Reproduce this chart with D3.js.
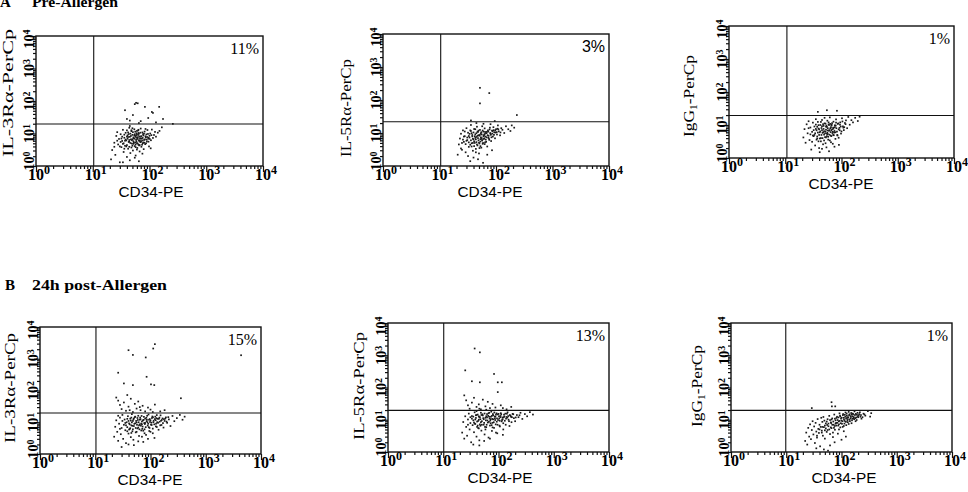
<!DOCTYPE html>
<html>
<head>
<meta charset="utf-8">
<script src="https://cdn.jsdelivr.net/npm/d3@7"></script>
<style>
  html, body { margin: 0; padding: 0; background: #fff; }
  svg { display: block; }
  .serif { font-family: "Liberation Serif", "DejaVu Serif", serif; }
  .sans { font-family: "Liberation Sans", Arial, sans-serif; }
</style>
</head>
<body>
<div id="chart"></div>
<script>
// CD34-PE (x) vs receptor-PerCp (y) fluorescence
const preIL3 = [
  [22,3.1],[24,5.2],[21,1.6],[26,8.4],[25,2.2],[28,4.6],[27,11],[29,6.8],[30,1.3],[31,9.5],
  [32,3.8],[33,5.9],[34,13],[35,2.7],[36,7.4],[37,4.2],[38,10.5],[39,6.1],[40,1.9],[41,8.8],
  [42,3.4],[43,5.5],[44,15],[45,7.9],[46,2.5],[47,6.6],[48,11.8],[49,4.9],[50,9.1],[51,3.0],
  [52,5.8],[53,7.2],[54,13.5],[55,4.1],[56,8.3],[57,2.1],[58,6.4],[59,10.2],[60,5.1],[61,3.6],
  [62,7.7],[63,12.4],[64,4.5],[65,9.8],[66,6.0],[67,2.8],[68,8.1],[69,5.4],[70,14.2],[72,3.9],
  [73,7.0],[75,10.8],[76,5.0],[78,8.7],[79,3.3],[80,6.3],[82,11.5],[84,4.7],[86,7.6],[88,9.4],
  [90,5.7],[92,12.8],[95,6.9],[98,4.0],[100,8.5],[103,10.0],[106,6.2],[110,13.2],[115,7.3],[120,9.0],
  [125,11.2],[130,8.0],[140,10.6],[150,12.0],[165,15.5],
  [35,5.0],[38,6.5],[40,4.4],[42,7.8],[44,5.6],[46,9.9],[48,3.7],[50,6.7],[52,4.8],[54,8.9],
  [56,5.3],[58,7.5],[60,3.2],[62,6.8],[64,10.4],[66,4.3],[68,5.9],[70,7.1],[74,6.1],[77,9.6],
  [81,5.2],[85,8.2],[89,6.5],[94,9.7],[97,7.4],[30,4.0],[33,8.0],[27,6.0],[24,3.9],[45,1.5],
  [55,1.8],[65,1.4],[75,2.4],[34,1.3],[60,12],[50,14.5],[40,12.5],[85,13.8],[105,3.5],[45,17],
  [31,5.5],[32,7.0],[34,4.8],[36,9.2],[37,6.0],[39,4.0],[41,6.9],[43,9.6],[44,3.9],[46,5.1],
  [47,8.4],[49,6.2],[50,4.2],[51,11.0],[53,5.2],[54,6.9],[55,9.5],[57,4.6],[58,8.6],[59,5.8],
  [61,7.1],[62,4.9],[63,9.0],[65,6.1],[66,8.0],[67,4.4],[69,10.6],[71,5.6],[72,8.3],[74,4.5],
  [76,7.3],[78,5.3],[80,9.9],[83,6.6],[87,5.0],[91,7.8],[96,5.6],[101,6.8],[108,8.9],[36,3.4],
  [42,10.8],[48,12.6],[56,11.4],[64,13.0],[44,6.3],[52,7.6],[60,9.5],[68,6.9],[40,8.0],[57,3.8],
  [58,88],[62,85],[55,80],[83,66],[110,46],[148,66],[37,52],[173,28],[51,37],[115,43],
  [258,19.8],[70,24],[95,30],[45,25],[130,22],[65,21],[40,28]
];
const preIL5 = [
  [21,2.2],[22,4.5],[23,6.8],[24,9.5],[25,3.1],[26,12],[27,5.4],[28,8.0],[29,2.6],[30,14],
  [31,6.1],[32,10.2],[33,3.8],[34,7.3],[35,1.4],[36,11.5],[37,4.9],[38,8.7],[39,2.9],[40,6.4],
  [41,13.2],[42,5.0],[43,9.1],[44,3.3],[45,7.6],[46,15.5],[47,4.2],[48,10.8],[49,6.0],[50,2.4],
  [51,8.3],[52,12.4],[53,5.5],[54,9.8],[55,3.6],[56,7.0],[57,16],[58,4.7],[59,1.25],[60,11.0],
  [61,6.6],[62,8.9],[63,13.8],[64,5.2],[66,10.0],[68,7.4],[70,3.9],[72,12.0],[74,8.2],[76,6.2],
  [78,14.5],[80,9.4],[82,5.7],[85,11.8],[88,7.8],[90,15],[93,10.5],[96,6.9],[100,13.0],[104,9.0],
  [108,17],[112,11.2],[118,8.5],[124,14],[130,12.5],[140,10.0],[150,16],[165,13],[180,11.5],[190,17],
  [210,14.5],[45,20],[60,19],[80,18.5],
  [30,5.8],[33,8.1],[35,4.4],[37,9.9],[39,6.7],[41,4.0],[43,7.1],[45,5.3],[47,11.0],[49,8.6],
  [51,3.5],[53,6.5],[55,10.6],[57,5.9],[60,8.0],[63,9.3],[66,6.3],[69,10.9],[73,7.2],[77,12.8],
  [81,8.8],[86,9.6],[91,12.2],[98,10.3],[106,13.5],[28,11.1],[26,6.3],[24,3.4],[32,2.0],[40,1.8],
  [48,1.6],[70,2.2],[85,3.0],[36,17.5],
  [29,4.6],[31,7.3],[33,5.2],[34,9.4],[36,6.0],[37,3.9],[38,7.9],[40,10.4],[41,5.6],[42,8.0],
  [44,6.4],[45,9.9],[46,4.5],[48,7.0],[49,11.8],[50,5.1],[52,8.9],[53,4.0],[54,7.4],[56,9.0],
  [57,6.1],[58,11.9],[59,5.0],[61,8.4],[62,6.9],[64,10.8],[65,7.8],[67,5.4],[68,9.9],[71,8.6],
  [73,11.0],[75,6.8],[79,10.0],[83,7.4],[87,11.4],[92,8.8],[97,11.9],[103,10.6],[110,12.9],[120,10.4],
  [35,12.0],[43,13.0],[51,4.8],[47,8.2],[39,5.0],[55,6.7],[63,4.6],[27,7.8],[25,5.0],[44,2.6],
  [52,234],[76,162],[52,79],[234,35],[36,24],[95,23]
];
const preIgG = [
  [21,4.2],[22,7.5],[23,2.9],[24,10.5],[25,5.6],[26,13],[27,3.5],[28,8.4],[29,1.8],[30,6.2],
  [31,11.8],[32,4.6],[33,9.0],[34,2.4],[35,15],[36,6.9],[37,3.9],[38,12.4],[39,7.8],[40,5.0],
  [41,1.5],[42,10.0],[43,3.2],[44,8.1],[45,14.2],[46,5.8],[47,2.6],[48,9.4],[49,6.5],[50,16.5],
  [51,4.3],[52,11.0],[53,7.2],[54,2.1],[55,8.8],[56,13.5],[57,5.3],[58,3.6],[59,10.4],[60,6.7],
  [62,17],[64,4.8],[66,9.7],[68,7.4],[70,2.7],[72,12.6],[74,5.9],[76,8.6],[78,3.8],[80,14.8],
  [83,6.3],[86,10.8],[89,4.1],[92,8.2],[95,12],[98,5.5],[102,16],[106,9.1],[110,7.0],[115,11.5],
  [120,13.8],[126,8.0],[132,17.5],[140,10.2],[150,14],[160,12],[175,16.5],[195,13.2],[210,17.8],
  [30,3.1],[33,5.0],[35,7.6],[37,4.5],[39,9.9],[41,6.0],[43,4.0],[45,7.0],[47,10.6],[49,3.4],
  [51,5.6],[53,8.9],[55,4.6],[57,6.8],[59,12.0],[61,5.1],[63,7.9],[65,3.0],[67,10.1],[69,5.7],
  [71,8.3],[75,6.6],[79,9.6],[84,5.0],[88,11.2],[93,6.9],[97,9.0],[104,12.8],[112,8.6],[28,5.2],
  [26,8.0],[40,2.0],[60,1.6],[75,2.2],[90,2.5],[45,1.9],
  [31,4.8],[32,7.0],[34,5.6],[36,3.6],[37,8.8],[38,5.9],[40,7.4],[41,3.9],[42,6.4],[44,5.0],
  [45,9.2],[46,4.0],[48,7.6],[49,5.1],[50,11.2],[52,6.3],[53,4.2],[54,9.6],[56,5.8],[57,8.0],
  [58,4.4],[60,10.0],[61,7.0],[62,3.4],[64,6.1],[65,8.6],[66,4.6],[68,11.4],[70,6.2],[72,7.7],
  [73,4.9],[76,9.8],[78,6.0],[81,8.0],[85,4.8],[89,7.4],[94,10.2],[100,6.4],[108,8.3],[118,10.6],
  [35,10.3],[43,12.4],[47,6.0],[55,5.4],[63,10.8],[71,5.0],[80,11.8],[52,2.8],[39,3.2],[66,6.9],
  [55,28],[83,27],[38,25]
];
const postIL3 = [
  [22,3.5],[23,7.2],[24,11.5],[25,5.0],[26,2.6],[27,9.0],[28,14],[29,4.2],[30,6.6],[31,17],
  [32,3.0],[33,8.3],[34,12.2],[35,5.6],[36,2.2],[37,10.0],[38,7.0],[39,15.5],[40,4.4],[41,9.2],
  [42,6.1],[43,13],[44,3.4],[45,8.0],[46,18],[47,5.2],[48,11],[49,2.8],[50,7.6],[52,14.5],
  [54,4.8],[56,9.8],[58,6.4],[60,16],[62,3.7],[64,8.6],[66,12.5],[68,5.5],[70,10.6],[72,7.3],
  [74,2.4],[76,14.8],[78,6.0],[80,9.5],[83,4.0],[86,12],[89,7.9],[92,17.5],[95,5.3],[98,10.2],
  [102,8.4],[106,13.6],[110,6.3],[114,11.2],[118,3.2],[122,15],[126,9.0],[130,7.1],[135,12.8],[140,5.8],
  [146,10.4],[152,16.5],[158,8.2],[165,13.2],[172,6.8],[180,11.0],[190,14.2],[200,9.6],[215,12.3],[230,7.6],
  [250,15.8],[270,10.8],[300,13.5],[340,17],[380,12],[415,15],
  [35,9.5],[38,12.8],[41,5.9],[44,11.3],[47,7.7],[50,13.2],[53,9.3],[56,5.0],[59,11.8],[62,8.0],
  [65,14.0],[68,9.1],[71,6.2],[75,11.9],[79,8.8],[84,13.8],[88,10.0],[93,7.0],[97,12.6],[104,9.7],
  [111,14.3],[117,8.6],[124,11.6],[132,10.0],[142,12.9],[155,11.1],[168,9.4],[185,13.0],[28,6.2],[31,11.0],
  [40,2.0],[50,1.9],[60,2.5],[30,1.66],[70,3.5],[90,3.0],[110,4.5],[26,16],
  [36,8.0],[38,5.2],[40,11.0],[42,8.6],[43,6.5],[45,14.0],[46,9.9],[48,6.0],[49,12.3],[51,8.9],
  [53,15.0],[54,6.6],[55,11.0],[57,8.3],[58,13.6],[61,10.0],[63,6.0],[64,12.0],[67,7.8],[69,15.8],
  [70,8.6],[73,11.4],[74,5.4],[77,9.4],[80,13.0],[82,7.0],[85,10.8],[87,16],[91,9.0],[94,12.0],
  [96,6.6],[100,11.5],[105,8.2],[108,15.2],[113,10.1],[120,12.6],[125,7.4],[128,13.5],[137,9.6],[145,14.0],
  [150,8.0],[160,11.8],[175,12.5],[195,10.5],[210,14.5],[60,6.8],[78,4.5],[100,5.0],[45,4.6],[130,16.8],
  [24,60],[26,48],[28,35],[30,26],[33,42],[36,23],[40,31],[44,55],[48,21],[52,38],
  [56,27],[60,45],[66,24],[72,33],[80,22],[90,29],[100,25],[120,36],[150,22],[38,72],
  [42,24],[64,30],[110,21],[180,24],
  [40,1860],[48,1320],[112,2100],[120,2880],[82,1100],[26,363],[85,270],[33,167],[48,148],[102,156],
  [117,148],[4360,1290],[355,57]
];
const postIL5 = [
  [22,4.0],[23,8.5],[24,2.6],[25,12.8],[26,6.0],[27,3.2],[28,10.2],[29,15.5],[30,5.0],[31,7.9],
  [32,2.0],[33,13],[34,6.8],[35,9.6],[36,4.1],[37,17],[38,7.4],[39,11.4],[40,3.0],[41,8.8],
  [42,14.5],[43,5.5],[44,10.0],[45,2.3],[46,12],[47,6.5],[48,16.5],[49,4.6],[50,9.0],[52,13.6],
  [54,7.0],[56,3.5],[58,11.5],[60,5.9],[62,15],[64,8.2],[66,2.8],[68,12.4],[70,6.6],[72,10.4],
  [74,17.8],[76,4.5],[78,8.0],[80,13.8],[83,5.6],[86,11],[89,7.2],[92,15.8],[95,3.8],[98,9.8],
  [102,12.8],[106,6.2],[110,16],[114,8.9],[118,11.7],[122,5.0],[126,14.4],[130,9.3],[135,7.0],[140,12.2],
  [146,17],[152,10.0],[158,6.4],[165,13.4],[172,8.4],[180,15.2],[190,11.2],[200,9.0],[215,14],[230,12.0],
  [250,16.4],[270,10.6],[300,15.0],[330,12.8],[370,17.2],[420,14.5],
  [33,10.8],[36,8.2],[39,13.8],[42,6.6],[45,11.9],[48,8.4],[51,14.8],[54,10.4],[57,6.0],[60,12.9],
  [63,9.5],[66,15.8],[69,11.0],[72,7.8],[76,13.2],[80,10.3],[84,16.8],[88,12.5],[93,8.7],[97,14.6],
  [103,10.9],[109,13.1],[116,9.8],[124,12.0],[133,15.5],[145,11.6],[160,14.0],[175,12.0],[28,7.0],[31,12.0],
  [35,1.7],[45,1.6],[55,2.2],[70,2.6],[90,4.0],[120,3.4],[40,18.5],
  [35,12.5],[37,7.6],[38,10.2],[40,14.0],[41,6.0],[43,9.2],[44,12.8],[46,7.2],[47,10.4],[49,14.0],
  [50,7.0],[53,11.2],[55,8.0],[56,15.6],[59,9.6],[61,7.0],[62,11.8],[65,13.2],[67,8.6],[68,16.5],
  [71,9.4],[73,12.4],[75,6.8],[77,10.6],[79,15.0],[82,8.4],[85,12.6],[87,9.8],[90,14.4],[94,11.0],
  [96,7.0],[100,15.2],[105,9.3],[108,12.0],[112,14.8],[119,10.4],[122,7.8],[128,12.6],[137,10.8],[142,15.4],
  [150,13.0],[155,9.0],[168,12.4],[185,14.8],[205,11.8],[58,5.0],[78,5.8],[104,6.6],[44,5.4],[240,13.8],
  [24,57],[26,40],[28,28],[30,22],[33,34],[36,48],[40,25],[44,30],[48,21],[52,42],
  [58,26],[64,36],[70,23],[78,31],[88,24],[97,72],[110,28],[140,21],[170,25],[60,20.5],
  [45,22],[120,23],
  [37,1620],[46,1230],[25,340],[33,156],[46,145],[83,263],[97,145],[115,145]
];
const postIgG = [
  [22,2.2],[23,4.0],[24,1.7],[25,5.6],[26,3.0],[27,7.2],[28,2.5],[29,4.8],[30,9.0],[31,3.5],
  [32,6.2],[33,1.9],[34,8.0],[35,4.3],[36,2.8],[37,10.5],[38,5.2],[39,3.9],[40,7.0],[41,1.5],
  [42,6.0],[43,11.5],[44,4.6],[45,8.6],[46,3.2],[47,12.2],[48,5.9],[49,9.4],[50,2.6],[52,7.7],
  [54,4.2],[56,10.4],[58,6.3],[60,13.2],[62,3.6],[64,8.3],[66,5.5],[68,11.0],[70,2.9],[72,7.0],
  [74,14.5],[76,4.9],[78,9.6],[80,6.6],[83,12.4],[86,3.7],[89,8.9],[92,15.8],[95,5.8],[98,10.9],
  [102,7.5],[106,13.9],[110,4.4],[114,9.2],[118,16.8],[122,6.8],[126,11.8],[130,8.4],[135,17.5],[140,10.0],
  [146,13.0],[152,7.8],[158,15.5],[165,11.0],[172,18.2],[180,9.0],[190,14.2],[200,12.0],[215,17],[230,10.8],
  [250,15.4],[270,13.4],[300,18.5],[330,12.5],[345,16],
  [85,9.8],[90,7.2],[95,12.6],[100,9.4],[105,6.0],[110,11.5],[115,14.2],[120,8.6],[125,13.5],[130,10.5],
  [135,7.4],[140,14.8],[145,11.0],[150,16.2],[155,9.6],[160,12.8],[170,10.4],[175,14.0],[185,11.8],[195,16.4],
  [205,13.8],[220,12.4],[60,5.0],[65,7.9],[70,4.0],[75,6.4],[80,8.0],[55,6.9],[50,4.7],[45,6.0],
  [35,1.3],[48,1.2],[62,1.6],[75,2.0],[100,2.4],[120,3.0],[57,1.1],
  [50,6.6],[52,5.4],[54,8.8],[56,4.8],[58,7.6],[62,9.8],[64,5.8],[66,10.2],[68,7.0],[71,8.8],
  [73,5.6],[76,10.8],[78,7.6],[81,11.4],[84,8.0],[87,6.6],[88,11.8],[92,9.2],[94,13.4],[97,7.8],
  [101,11.6],[104,9.0],[107,15.0],[111,10.2],[113,7.6],[117,12.4],[121,10.8],[124,15.6],[128,9.4],[132,12.0],
  [137,13.8],[142,9.0],[148,12.2],[153,14.4],[157,10.8],[163,15.0],[167,12.0],[178,11.2],[182,15.2],[188,9.8],
  [198,12.8],[210,15.0],[225,14.0],[240,12.0],[260,14.6],[44,4.0],[40,5.0],[36,3.2],[90,5.0],[110,6.4],
  [66,35],[67,26],[77,26],[29,23]
];

const panelData = [preIL3, preIL5, preIgG, postIL3, postIL5, postIgG];
const yTitles = ["IL-3Rα-PerCp", "IL-5Rα-PerCp", "IgG|1|-PerCp", "IL-3Rα-PerCp", "IL-5Rα-PerCp", "IgG|1|-PerCp"];
const xTitle = "CD34-PE";
const percents = ["11%", "3%", "1%", "15%", "13%", "1%"];
const gateX = [10.4, 10.5, 10.7, 10.3, 10.2, 9.8];
const gateY = [19.5, 22, 19.5, 19.5, 19.5, 19.5];
const decades = [1, 10, 100, 1000, 10000];
const decadeExp = ["0", "1", "2", "3", "4"];
const sectionTitles = [["A", "Pre-Allergen"], ["B", "24h post-Allergen"]];

// layout (pixels)
const width = 968, height = 492;
const frames = [
  { x0: 36,  y0: 36,  x1: 263, y1: 166, ty: { x: 8,   y: 93,  len: 128 }, xt: 151, pctFont: "serif" },
  { x0: 383, y0: 34,  x1: 609, y1: 166, ty: { x: 346, y: 108, len: 98 },  xt: 490, pctFont: "sans" },
  { x0: 729, y0: 26,  x1: 954, y1: 158, ty: { x: 689, y: 96,  len: 82 },  xt: 841, pctFont: "serif" },
  { x0: 40,  y0: 327, x1: 261, y1: 454, ty: { x: 10,  y: 388, len: 110 }, xt: 150, pctFont: "serif" },
  { x0: 388, y0: 323, x1: 609, y1: 452, ty: { x: 359, y: 386, len: 108 }, xt: 500, pctFont: "serif" },
  { x0: 731, y0: 323, x1: 952, y1: 452, ty: { x: 697, y: 386, len: 82 },  xt: 844, pctFont: "serif" }
];

const svg = d3.select("#chart").append("svg")
  .attr("width", width)
  .attr("height", height);

svg.append("rect").attr("width", width).attr("height", height).attr("fill", "#fff");

// section headings (the top one is clipped by the page edge in the source)
const headY = [7, 290];
sectionTitles.forEach((t, i) => {
  svg.append("text").attr("class", "serif")
    .attr("x", i === 0 ? 0 : 5).attr("y", headY[i])
    .attr("font-size", 15).attr("font-weight", "bold")
    .text(t[0]);
  svg.append("text").attr("class", "serif")
    .attr("x", 32).attr("y", headY[i])
    .attr("font-size", 15).attr("font-weight", "bold")
    .attr("textLength", i === 0 ? 86 : 135).attr("lengthAdjust", "spacingAndGlyphs")
    .text(t[1]);
});

frames.forEach((f, i) => {
  const g = svg.append("g");
  const x = d3.scaleLog().domain([1, 1e4]).range([f.x0, f.x1]);
  const y = d3.scaleLog().domain([1, 1e4]).range([f.y1, f.y0]);
  const minor = x.ticks().filter(t => !decades.includes(t));

  // ticks
  const bottom = g.append("g").attr("transform", `translate(0,${f.y1})`);
  bottom.append("g").call(d3.axisBottom(x).tickValues(minor).tickSize(3).tickFormat(""));
  bottom.append("g").call(d3.axisBottom(x).tickValues(decades).tickSize(6).tickFormat(""));
  const left = g.append("g").attr("transform", `translate(${f.x0},0)`);
  left.append("g").call(d3.axisLeft(y).tickValues(minor).tickSize(3).tickFormat(""));
  left.append("g").call(d3.axisLeft(y).tickValues(decades).tickSize(6).tickFormat(""));
  g.selectAll(".domain").remove();
  g.selectAll(".tick line").attr("stroke", "#111").attr("stroke-width", 1.2);

  // frame and gates
  g.append("rect")
    .attr("x", f.x0).attr("y", f.y0)
    .attr("width", f.x1 - f.x0).attr("height", f.y1 - f.y0)
    .attr("fill", "none").attr("stroke", "#111").attr("stroke-width", 1.4);
  g.append("line")
    .attr("x1", x(gateX[i])).attr("x2", x(gateX[i]))
    .attr("y1", f.y0).attr("y2", f.y1)
    .attr("stroke", "#111").attr("stroke-width", 1.1);
  g.append("line")
    .attr("x1", f.x0).attr("x2", f.x1)
    .attr("y1", y(gateY[i])).attr("y2", y(gateY[i]))
    .attr("stroke", "#111").attr("stroke-width", 1.1);

  // events
  g.append("g").selectAll("rect")
    .data(panelData[i])
    .join("rect")
    .attr("x", d => x(d[0]) - 0.85)
    .attr("y", d => y(d[1]) - 0.85)
    .attr("width", 1.7).attr("height", 1.7)
    .attr("fill", "#1a1a1a");

  // x tick labels
  decades.forEach((t, k) => {
    const tx = g.append("text").attr("class", "serif")
      .attr("x", x(t) + 3).attr("y", f.y1 + 14)
      .attr("text-anchor", "middle")
      .attr("font-size", 16).attr("font-weight", "bold");
    tx.append("tspan").text("10");
    tx.append("tspan").attr("dy", -6).attr("font-size", 12).text(decadeExp[k]);
  });

  // y tick labels, rotated
  decades.forEach((t, k) => {
    const shift = k === 0 ? -5 : (k === 4 ? 3 : 0);
    const ty = g.append("text").attr("class", "serif")
      .attr("transform", `translate(${f.x0 - 2},${y(t) + shift}) rotate(-90)`)
      .attr("text-anchor", "middle")
      .attr("font-size", 14).attr("font-weight", "bold");
    ty.append("tspan").text("10");
    ty.append("tspan").attr("dy", -4).attr("font-size", 10).text(decadeExp[k]);
  });

  // axis titles
  g.append("text").attr("class", "sans")
    .attr("x", f.xt).attr("y", f.y1 + 31)
    .attr("text-anchor", "middle")
    .attr("font-size", 14)
    .attr("textLength", 65).attr("lengthAdjust", "spacingAndGlyphs")
    .text(xTitle);

  const parts = yTitles[i].split("|");
  const yt = g.append("text").attr("class", "serif")
    .attr("transform", `translate(${f.ty.x},${f.ty.y}) rotate(-90)`)
    .attr("text-anchor", "middle")
    .attr("dy", "0.35em")
    .attr("font-size", 15)
    .attr("textLength", f.ty.len).attr("lengthAdjust", "spacingAndGlyphs");
  yt.append("tspan").text(parts[0]);
  if (parts.length > 1) {
    yt.append("tspan").attr("font-size", 10).attr("dy", 3).text(parts[1]);
    yt.append("tspan").attr("dy", -3).text(parts[2]);
  }

  // quadrant percentage
  g.append("text").attr("class", f.pctFont)
    .attr("x", f.x1 - 4).attr("y", f.y0 + 18)
    .attr("text-anchor", "end")
    .attr("font-size", 16)
    .text(percents[i]);
});
</script>
</body>
</html>
